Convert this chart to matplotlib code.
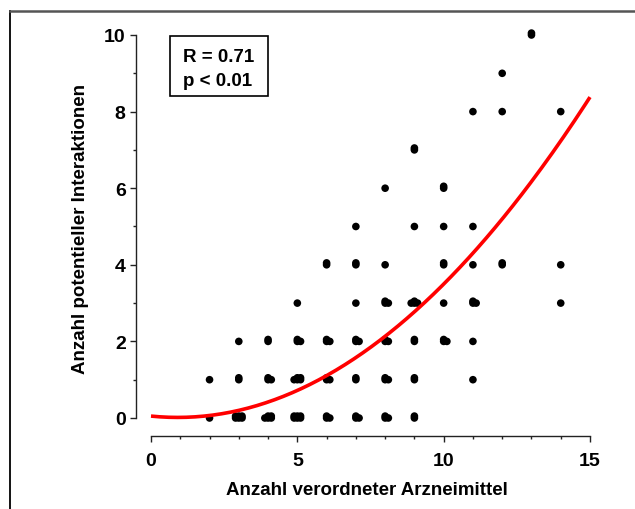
import matplotlib
matplotlib.use("Agg")
import matplotlib.pyplot as plt
import numpy as np
from matplotlib.lines import Line2D
from matplotlib.patches import Rectangle

plt.rcParams['font.family'] = ['Liberation Sans', 'DejaVu Sans']
plt.rcParams['font.weight'] = 'bold'

# Data: (number of prescribed drugs, number of potential interactions, count of patients)
drugs =        [2, 3, 4, 5, 6, 7, 8, 9,
                2, 3, 4, 5, 6, 7, 8, 9, 11,
                3, 4, 5, 6, 7, 8, 9, 10, 11,
                5, 7, 8, 9, 10, 11, 14,
                6, 7, 8, 10, 11, 12, 14,
                7, 9, 10, 11,
                8, 10,
                9,
                11, 12, 14,
                12,
                13]
interactions = [0, 0, 0, 0, 0, 0, 0, 0,
                1, 1, 1, 1, 1, 1, 1, 1, 1,
                2, 2, 2, 2, 2, 2, 2, 2, 2,
                3, 3, 3, 3, 3, 3, 3,
                4, 4, 4, 4, 4, 4, 4,
                5, 5, 5, 5,
                6, 6,
                7,
                8, 8, 8,
                9,
                10]
counts =       [1, 6, 5, 6, 3, 3, 3, 2,
                1, 2, 3, 5, 3, 2, 3, 2, 1,
                1, 2, 3, 3, 3, 3, 2, 3, 1,
                1, 1, 3, 4, 1, 3, 1,
                2, 2, 1, 2, 1, 2, 1,
                1, 1, 1, 1,
                1, 2,
                2,
                1, 1, 1,
                1,
                2]

# Fitted regression curve (quadratic): y = a*x^2 + b*x + c
fit_coeffs = [0.04213, -0.0767, 0.05]
fit_range = [0, 15]

stats_text = "R = 0.71\np < 0.01"
xlabel = "Anzahl verordneter Arzneimittel"
ylabel = "Anzahl potentieller Interaktionen"
xticks = [0, 5, 10, 15]
yticks = [0, 2, 4, 6, 8, 10]

W, H = 635, 510
fig = plt.figure(figsize=(W / 100, H / 100), dpi=100)

# axes geometry in pixels
x0_px, x15_px = 151, 590
y0_px, y10_px = 419, 36
ppx = (x15_px - x0_px) / 15.0
ppy = (y0_px - y10_px) / 10.0
xmin, xmax = -0.51, 15.3
ymin, ymax = -0.47, 10.4
left_px = x0_px + xmin * ppx
bottom_px = y0_px - ymin * ppy
width_px = (xmax - xmin) * ppx
height_px = (ymax - ymin) * ppy
ax = fig.add_axes([left_px / W, (H - bottom_px) / H, width_px / W, height_px / H])
ax.set_xlim(xmin, xmax)
ax.set_ylim(ymin, ymax)

# overlap pattern for coincident points
pattern = [(0, 0), (0, 0.05), (0.11, 0), (-0.11, 0), (0.11, 0.05), (-0.11, 0.05),
           (0.05, 0.03), (-0.05, 0.03)]
px, py = [], []
for xv, yv, n in zip(drugs, interactions, counts):
    for k in range(n):
        dx, dy = pattern[k % len(pattern)]
        px.append(xv + dx)
        py.append(yv + dy)
ax.scatter(px, py, s=30, color='black', edgecolors='none', zorder=3)

xs = np.linspace(fit_range[0], fit_range[1], 200)
ys = np.polyval(fit_coeffs, xs)
ax.plot(xs, ys, color='#ff0000', lw=2.6, zorder=4, solid_capstyle='butt')

for s in ['top', 'right']:
    ax.spines[s].set_visible(False)
ax.spines['bottom'].set_bounds(0, 15)
ax.spines['left'].set_bounds(0, 10)
for s in ['bottom', 'left']:
    ax.spines[s].set_linewidth(1.0)
    ax.spines[s].set_color('#222222')

ax.set_xticks(xticks)
ax.set_xticks(range(0, 16), minor=True)
ax.set_yticks(yticks)
ax.set_yticks(range(0, 11), minor=True)
ax.tick_params(axis='both', which='major', length=4.5, width=1.0, labelsize=14, color='#222222')
ax.tick_params(axis='both', which='minor', length=2.5, width=1.0, color='#222222')
ax.tick_params(axis='x', which='major', pad=7)
ax.tick_params(axis='y', which='major', pad=3)
for lab in ax.get_xticklabels() + ax.get_yticklabels():
    lab.set_fontweight('bold')

ax.set_xlabel(xlabel, fontsize=13.5, fontweight='bold', labelpad=9)
ax.set_ylabel(ylabel, fontsize=13.5, fontweight='bold', labelpad=11)

# stats box
fig.add_artist(Rectangle((170 / W, 1 - 97 / H), 98 / W, 60 / H, transform=fig.transFigure,
                         fc='white', ec='black', lw=1.2, zorder=5))
fig.text(183 / W, 1 - 49 / H, stats_text, fontsize=13.5, fontweight='bold', va='top', ha='left',
         linespacing=1.55, zorder=6)

# outer frame (left and top lines)
fig.add_artist(Line2D([10 / W, 10 / W], [0, 1 - 12 / H], color='black', lw=1.3,
                      transform=fig.transFigure))
fig.add_artist(Line2D([10 / W, 1], [1 - 12 / H, 1 - 12 / H], color='#555555', lw=1.8,
                      transform=fig.transFigure))

fig.savefig("out.png", dpi=100)
